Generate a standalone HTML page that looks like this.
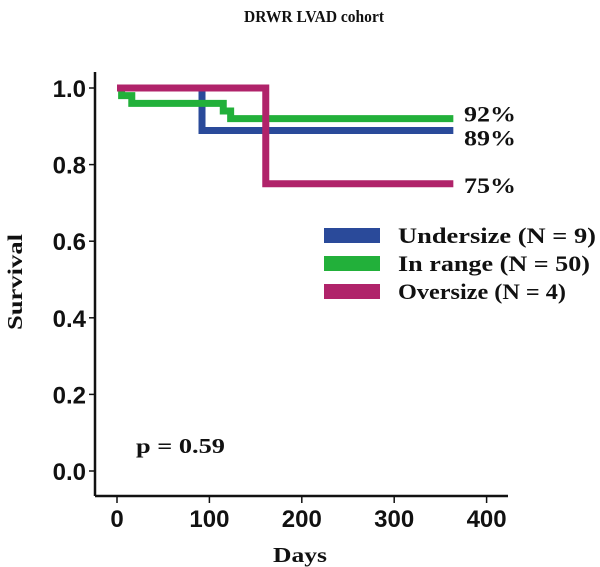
<!DOCTYPE html>
<html><head><meta charset="utf-8"><style>
body{margin:0;background:#fff;}
svg{display:block;}
.tk{font-family:"Liberation Sans",sans-serif;font-weight:bold;font-size:24px;fill:#111;}
.sf{font-family:"Liberation Serif",serif;font-weight:bold;fill:#111;}
</style></head><body>
<svg id="c" width="600" height="567" viewBox="0 0 600 567" xmlns="http://www.w3.org/2000/svg">
<text class="sf" x="314" y="22" text-anchor="middle" font-size="17" textLength="140" lengthAdjust="spacingAndGlyphs">DRWR LVAD cohort</text>
<text class="sf" transform="translate(22,282) rotate(-90)" text-anchor="middle" font-size="21" textLength="96" lengthAdjust="spacingAndGlyphs">Survival</text>
<text class="sf" x="300" y="562" text-anchor="middle" font-size="21" textLength="54" lengthAdjust="spacingAndGlyphs">Days</text>
<text class="sf" x="136" y="453" font-size="21" textLength="89" lengthAdjust="spacingAndGlyphs">p = 0.59</text>
<g id="axes"></g>
<g id="series"></g>
<g id="legend"></g>
</svg>
<script>
const xTicks=[0,100,200,300,400];
const yTicks=[0,0.2,0.4,0.6,0.8,1.0];
const seriesNames=["Undersize (N = 9)","In range (N = 50)","Oversize (N = 4)"];
const seriesColors=["#2a4a9a","#22b03a","#b0236a"];
const underDays=[0,92,364];
const underSurv=[1.0,0.889,0.889];
const inrangeDays=[0,5,16,115,123,364];
const inrangeSurv=[1.0,0.98,0.96,0.94,0.92,0.92];
const overDays=[0,161,364];
const overSurv=[1.0,0.75,0.75];
const endLabels=["89%","92%","75%"];
const NS="http://www.w3.org/2000/svg";
const X=d=>117+d*0.924;
const Y=s=>471-s*383;
function mk(t,a,p){const e=document.createElementNS(NS,t);for(const k in a)e.setAttribute(k,a[k]);p.appendChild(e);return e;}
const ax=document.getElementById('axes');
let l=mk('line',{x1:95,y1:72,x2:95,y2:496,stroke:'#111','stroke-width':2.5},ax);


l=mk('line',{x1:95,y1:496,x2:508,y2:496,stroke:'#111','stroke-width':2.5},ax);


yTicks.forEach(v=>{
 mk('line',{x1:89,y1:Y(v),x2:95,y2:Y(v),stroke:'#111','stroke-width':1.5},ax);
 const t=mk('text',{x:86,y:Y(v)+9,'text-anchor':'end',class:'tk'},ax);t.textContent=v.toFixed(1);
 
 
});
xTicks.forEach(v=>{
 mk('line',{x1:X(v),y1:496,x2:X(v),y2:503,stroke:'#111','stroke-width':1.5},ax);
 const t=mk('text',{x:X(v),y:527,'text-anchor':'middle',class:'tk'},ax);t.textContent=v;
 
 
});
const sg=document.getElementById('series');
const data=[[underDays,underSurv],[inrangeDays,inrangeSurv],[overDays,overSurv]];
const labelOffsets=[15,3,9];
[0,1,2].forEach(i=>{
 const [d,s]=data[i];let p='M'+X(d[0])+','+Y(s[0]);
 for(let k=1;k<d.length;k++){p+=' H'+X(d[k])+' V'+Y(s[k]);}
 const e=mk('path',{d:p,fill:'none',stroke:seriesColors[i],'stroke-width':7},sg);
 
 
 const t=mk('text',{x:464,y:Y(s[s.length-1])+labelOffsets[i],class:'sf','font-size':22,textLength:52,lengthAdjust:'spacingAndGlyphs'},sg);
 t.textContent=endLabels[i];
 
 
});
const lg=document.getElementById('legend');
seriesNames.forEach((n,i)=>{
 const r=mk('rect',{x:324,y:228+i*28,width:56,height:15,fill:seriesColors[i]},lg);
 
 
 const t=mk('text',{x:398,y:243+i*28,class:'sf','font-size':22,textLength:[198,192,168][i],lengthAdjust:'spacingAndGlyphs'},lg);t.textContent=n;
 
 
});
</script>
</body></html>
